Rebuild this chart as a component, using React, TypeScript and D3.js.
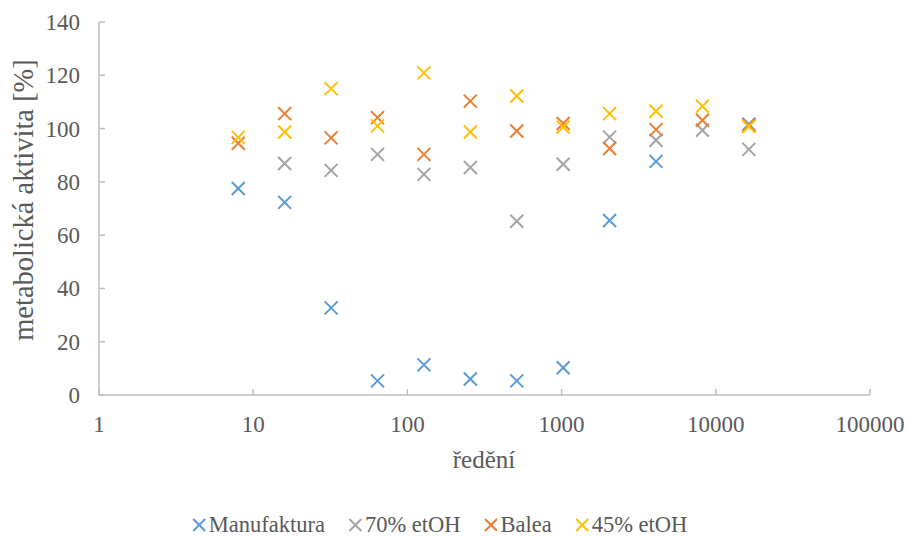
import React, { useEffect, useRef } from 'react';
import * as d3 from 'd3';

// ředění (x) a naměřené hodnoty metabolické aktivity [%]
const dilutions = [8, 16, 32, 64, 128, 256, 512, 1024, 2048, 4096, 8192, 16384];
const manufaktura = [77.5, 72.3, 32.7, 5.3, 11.3, 6.0, 5.3, 10.2, 65.5, 87.7, null, 101.6];
const etoh70 = [null, 86.9, 84.3, 90.3, 82.8, 85.4, 65.2, 86.6, 96.8, 95.6, 99.4, 92.2];
const balea = [94.5, 105.6, 96.5, 104.1, 90.3, 110.3, 99.1, 101.9, 92.5, 99.6, 103.1, 101.2];
const etoh45 = [96.7, 98.7, 115.0, 101.0, 120.9, 98.7, 112.2, 100.6, 105.6, 106.5, 108.4, 100.8];

const seriesNames = ['Manufaktura', '70% etOH', 'Balea', '45% etOH'];
const seriesValues = [manufaktura, etoh70, balea, etoh45];
const seriesColors = ['#5B9BD5', '#A5A5A5', '#ED7D31', '#FFC000'];

const xTicks = [1, 10, 100, 1000, 10000, 100000];
const yTicks = [0, 20, 40, 60, 80, 100, 120, 140];

const width = 908;
const height = 537;
const font = "'Liberation Serif', 'Times New Roman', Times, serif";

function drawChart(node) {
  const svg = d3.select(node);
  svg.selectAll('*').remove();

  const x = d3.scaleLog().domain([1, 100000]).range([99, 870]);
  const y = d3.scaleLinear().domain([0, 140]).range([395, 22]);
  const axisColor = '#BFBFBF';
  const textColor = '#595959';

  // returns the rendered width in px
  const addText = (parent, tx, ty, size, str, anchor = 'start', rot = 0) => {
    const t = parent.append('text')
      .attr('transform', `translate(${tx},${ty}) rotate(${rot})`)
      .attr('text-anchor', anchor)
      .attr('font-size', size)
      .style('font-family', font)
      .attr('fill', textColor)
      .text(str);
    return t.node().getComputedTextLength();
  };

  // osy
  svg.append('line')
    .attr('x1', x(1)).attr('x2', x(100000))
    .attr('y1', y(0)).attr('y2', y(0))
    .attr('stroke', axisColor).attr('stroke-width', 1.5);
  svg.append('line')
    .attr('x1', x(1)).attr('x2', x(1))
    .attr('y1', y(0)).attr('y2', y(140))
    .attr('stroke', axisColor).attr('stroke-width', 1.5);

  // ticks inside the plot
  svg.append('g').selectAll('line').data(xTicks).join('line')
    .attr('x1', d => x(d)).attr('x2', d => x(d))
    .attr('y1', y(0)).attr('y2', y(0) - 6)
    .attr('stroke', axisColor).attr('stroke-width', 1.5);
  svg.append('g').selectAll('line').data(yTicks).join('line')
    .attr('x1', x(1)).attr('x2', x(1) + 6)
    .attr('y1', d => y(d)).attr('y2', d => y(d))
    .attr('stroke', axisColor).attr('stroke-width', 1.5);

  const xLab = svg.append('g');
  xTicks.forEach(d => addText(xLab, x(d), 432, 23, String(d), 'middle'));
  const yLab = svg.append('g');
  yTicks.forEach(d => addText(yLab, 80, y(d) + 8, 23, String(d), 'end'));

  // titulky os
  addText(svg, 484, 468, 25, 'ředění', 'middle');
  addText(svg, 33, 200, 28.5, 'metabolická aktivita [%]', 'middle', -90);

  const cross = (g, s, color) => {
    g.append('path')
      .attr('d', `M${-s},${-s}L${s},${s}M${-s},${s}L${s},${-s}`)
      .attr('stroke', color).attr('stroke-width', 2).attr('fill', 'none');
  };

  // body
  seriesValues.forEach((vals, i) => {
    const pts = dilutions.map((d, j) => [d, vals[j]]).filter(p => p[1] != null);
    const g = svg.append('g');
    pts.forEach(p => {
      const m = g.append('g').attr('transform', `translate(${x(p[0])},${y(p[1])})`);
      cross(m, 6.5, seriesColors[i]);
    });
  });

  // legenda
  const legend = svg.append('g');
  let cursor = 0;
  seriesNames.forEach((name, i) => {
    const item = legend.append('g').attr('transform', `translate(${cursor},525)`);
    cross(item.append('g').attr('transform', 'translate(6.5,0)'), 6, seriesColors[i]);
    const w = 16 + addText(item, 16, 7, 22.5, name);
    cursor += w + 24;
  });
  const total = cursor - 24;
  legend.attr('transform', `translate(${440 - total / 2},0)`);
}

export default function App() {
  const ref = useRef(null);
  useEffect(() => {
    drawChart(ref.current);
  }, []);
  return (
    <svg ref={ref} width={width} height={height} style={{ display: 'block', position: 'absolute', left: 0, top: 0, background: '#fff' }} />
  );
}
